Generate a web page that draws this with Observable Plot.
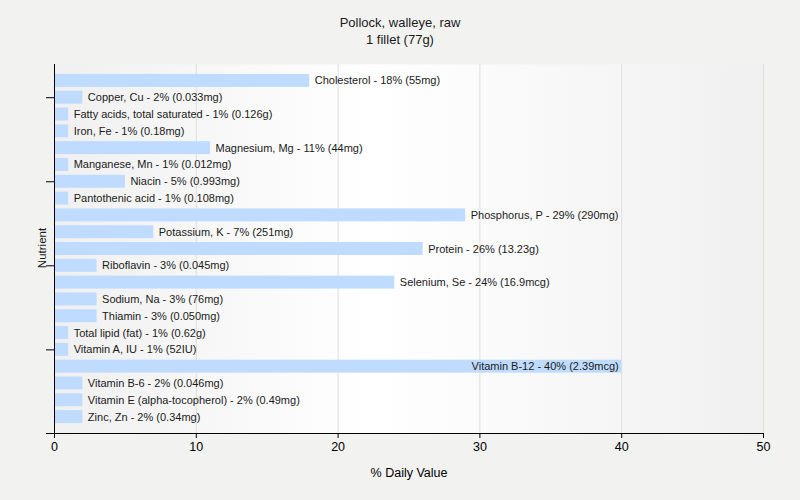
<!DOCTYPE html>
<html><head><meta charset="utf-8">
<script src="https://cdn.jsdelivr.net/npm/d3@7"></script>
<script src="https://cdn.jsdelivr.net/npm/@observablehq/plot@0.6"></script>
<style>
body{margin:0;background:#f2f2f1;}
#wrap{position:relative;width:800px;height:500px;font-family:"Liberation Sans",Arial,sans-serif;color:#1a1a1a}
#title{position:absolute;top:14px;left:0;width:800px;text-align:center;font-size:13px;line-height:17px}
#ylab{position:absolute;left:42px;top:248px;transform:translate(-50%,-50%) rotate(-90deg);font-size:11.5px;white-space:nowrap}
#chart{position:absolute;top:0;left:0}
</style></head><body>
<div id="wrap"><div id="chart"></div><div id="title">Pollock, walleye, raw<br>1 fillet (77g)</div><div id="ylab">Nutrient</div></div>
<script>
const nutrients = ["Cholesterol","Copper, Cu","Fatty acids, total saturated","Iron, Fe","Magnesium, Mg","Manganese, Mn","Niacin","Pantothenic acid","Phosphorus, P","Potassium, K","Protein","Riboflavin","Selenium, Se","Sodium, Na","Thiamin","Total lipid (fat)","Vitamin A, IU","Vitamin B-12","Vitamin B-6","Vitamin E (alpha-tocopherol)","Zinc, Zn"];
const values = [18,2,1,1,11,1,5,1,29,7,26,3,24,3,3,1,1,40,2,2,2];
const amounts = ["55mg","0.033mg","0.126g","0.18mg","44mg","0.012mg","0.993mg","0.108mg","290mg","251mg","13.23g","0.045mg","16.9mcg","76mg","0.050mg","0.62g","52IU","2.39mcg","0.046mg","0.49mg","0.34mg"];
const xTicks = [0,10,20,30,40,50];
const yTickNutrients = ["Copper, Cu","Niacin","Riboflavin","Vitamin A, IU"];

const data = nutrients.map((n,i)=>({name:n, value:values[i], label:`${n} - ${values[i]}% (${amounts[i]})`}));

const chart = Plot.plot({
  width:800, height:500,
  marginTop:64, marginLeft:54, marginRight:37, marginBottom:67,
  style:{background:"transparent", fontFamily:"Liberation Sans, Arial, sans-serif", color:"#000"},
  x:{domain:[0,50]},
  y:{domain:nutrients, paddingInner:0.23, paddingOuter:0.59, align:0.5, round:false},
  marks:[
    Plot.frame({fill:"url(#bg)", stroke:"none"}),
    Plot.gridX(xTicks.slice(1), {stroke:"#dedede", strokeOpacity:1}),
    Plot.barX(data,{x:"value", y:"name", fill:"#bfdbff"}),
    Plot.text(data.filter(d=>d.value<=30),{x:"value",y:"name",text:"label",textAnchor:"start",dx:5,fontSize:11,fill:"#1a1a1a"}),
    Plot.text(data.filter(d=>d.value>30),{x:"value",y:"name",text:"label",textAnchor:"end",dx:-3,fontSize:11,fill:"#1a1a1a"}),
    Plot.ruleX([0],{stroke:"black"}),
    Plot.frame({anchor:"bottom", stroke:"black", insetLeft:-8}),
    Plot.axisX({ticks:xTicks, tickSize:5, fontSize:12.5, label:"% Daily Value", labelAnchor:"center", labelOffset:43, labelArrow:"none"}),
    Plot.axisY({ticks:yTickNutrients, tickSize:8, tickFormat:()=>"", label:null})
  ]
});
const svg = d3.select(chart);
const defs = svg.insert("defs", ":first-child");
const g = defs.append("linearGradient").attr("id","bg").attr("x1","0").attr("x2","1").attr("y1","0").attr("y2","0");
g.append("stop").attr("offset","0").attr("stop-color","#f0f0f0");
g.append("stop").attr("offset","0.45").attr("stop-color","#ffffff");
g.append("stop").attr("offset","1").attr("stop-color","#f0f0f0");
document.getElementById("chart").appendChild(chart);
</script>
</body></html>
